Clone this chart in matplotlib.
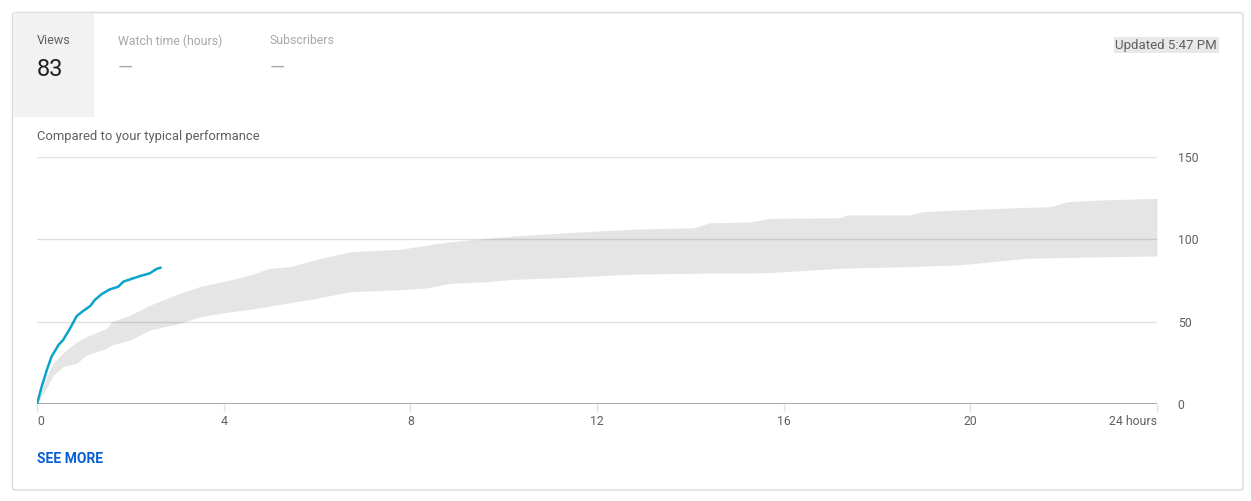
import matplotlib.pyplot as plt
from matplotlib.patches import FancyBboxPatch, Rectangle
import numpy as np

plt.rcParams['font.family'] = ['Roboto', 'DejaVu Sans']

# views so far (hours since publish, cumulative views)
views_h = [0, 0.10, 0.21, 0.31, 0.46, 0.56, 0.71, 0.85, 0.99, 1.14, 1.24, 1.39,
           1.56, 1.74, 1.85, 2.06, 2.21, 2.42, 2.56, 2.65]
views = [0, 10.5, 20.6, 28.7, 35.8, 38.9, 46, 53.4, 56.5, 59.5, 63.2, 66.8,
         69.6, 71.2, 74.3, 76.3, 77.7, 79.4, 82, 82.8]

# typical performance range
band_h = [0, 0.21, 0.35, 0.56, 0.85, 1.06, 1.49, 1.6, 2.0, 2.42, 3.06, 3.49, 4.14,
          4.56, 4.99, 5.42, 5.99, 6.71, 7.78, 8.35, 8.85, 9.64, 10.2, 11.35, 12.78,
          14.06, 14.42, 15.28, 15.7, 17.2, 17.35, 18.7, 18.99, 19.7, 20.1,
          21.2, 21.7, 22.1, 22.8, 24]
band_hi = [0, 17, 24.9, 31, 37.8, 40.9, 46, 50, 54, 60, 67.2, 71.3, 75.3,
           78.3, 82.4, 83.4, 87.8, 92.5, 93.9, 96.5, 98.5, 100.6, 102, 104, 106.2,
           107, 110, 110.5, 112.7, 113.1, 114.8, 114.8, 116.8, 117.8, 118.2,
           119.4, 119.8, 122.9, 123.9, 124.9]
band_lo = [0, 10, 17.6, 22.7, 24.7, 29.8, 33.8, 35.8, 38.9, 45, 49, 53, 56,
           57.5, 59.5, 61.5, 64.2, 68.2, 69.4, 70.5, 73.3, 74.3, 75.7, 76.9, 78.9,
           79.4, 79.5, 79.6, 79.8, 82.4, 82.6, 83.4, 83.8, 84.4, 85.4,
           88.5, 88.8, 89, 89.4, 89.9]

x_ticks = [0, 4, 8, 12, 16, 20, 24]
x_labels = ['0', '4', '8', '12', '16', '20', '24 hours']
y_ticks = [0, 50, 100, 150]

W, H = 1251, 501
fig = plt.figure(figsize=(W / 100, H / 100), dpi=100)
fig.patch.set_facecolor('white')

def fx(px):
    return px / W

def fy(py):
    return 1 - py / H

# card and views tab (behind the axes)
card = FancyBboxPatch((fx(12.5), fy(490)), fx(1243) - fx(12.5), fy(12.5) - fy(490),
                      boxstyle='round,pad=0,rounding_size=0.004', transform=fig.transFigure,
                      facecolor='white', edgecolor='#dadada', lw=1, zorder=-10)
fig.patches.append(card)
fig.patches.append(Rectangle((fx(13), fy(117)), fx(94) - fx(13), fy(13) - fy(117),
                             transform=fig.transFigure, facecolor='#f2f2f2', edgecolor='none',
                             zorder=-9))

fig.text(fx(37), fy(41), 'Views', fontsize=9, color='#606060', va='center')
fig.text(fx(37), fy(69), '83', fontsize=17, color='#202020', va='center')
fig.text(fx(118), fy(41), 'Watch time (hours)', fontsize=8.8, color='#a8a8a8', va='center')
fig.text(fx(118), fy(68), '—', fontsize=14, color='#a8a8a8', va='center')
fig.text(fx(270), fy(41), 'Subscribers', fontsize=8.8, color='#a8a8a8', va='center')
fig.text(fx(270), fy(68), '—', fontsize=14, color='#a8a8a8', va='center')
fig.text(fx(1217), fy(45), 'Updated 5:47 PM', fontsize=9.5, color='#606060', va='center', ha='right',
         bbox=dict(boxstyle='square,pad=0.12', facecolor='#e8e8e8', edgecolor='none'))
fig.text(fx(37), fy(136), 'Compared to your typical performance', fontsize=9.4, color='#606060', va='center')
fig.text(fx(37), fy(459), 'SEE MORE', fontsize=10, color='#065fd4', va='center', fontweight='bold')

ax = fig.add_axes([fx(37), fy(404), fx(1157) - fx(37), fy(157) - fy(404)], zorder=5)
ax.set_facecolor('none')
ax.fill_between(band_h, band_lo, band_hi, color='#e5e5e5', lw=0, zorder=1)
ax.plot(views_h, views, color='#0aa3c9', lw=1.8, zorder=4, solid_capstyle='round')

# gridlines drawn translucent so they darken over the band
for yv in y_ticks[1:]:
    ax.axhline(yv, color='black', alpha=0.12, lw=1, zorder=2)
ax.axhline(0, color='#9a9a9a', lw=1.2, zorder=3)

ax.set_xlim(0, 24)
ax.set_ylim(0, 150)
for s in ax.spines.values():
    s.set_visible(False)

ax.set_xticks(x_ticks)
ax.set_xticklabels(x_labels)
ax.tick_params(axis='x', length=5, width=1, color='#e0e0e0', labelsize=8.8,
               labelcolor='#606060', pad=3, direction='out')
tl = ax.get_xticklabels()
tl[0].set_ha('left')
tl[-1].set_ha('right')

ax.yaxis.tick_right()
ax.set_yticks(y_ticks)
ax.tick_params(axis='y', length=0, labelsize=8.8, labelcolor='#606060', pad=15)

fig.savefig('out.png', dpi=100, facecolor='white')
